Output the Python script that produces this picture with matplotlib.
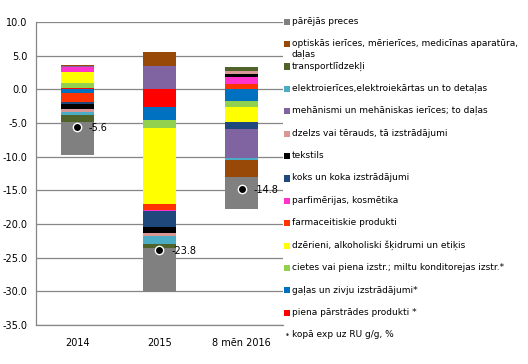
import numpy as np
import matplotlib
matplotlib.use("Agg")
import matplotlib.pyplot as plt
from matplotlib.patches import Rectangle

plt.rcParams['font.family'] = ['DejaVu Sans']
plt.rcParams['axes.unicode_minus'] = False

# categories
categories = ["2014", "2015", "8 mēn 2016"]

# series in stacking order (first = bottom of legend)
series_names = [
    "piena pārstrādes produkti *",
    "gaļas un zivju izstrādājumi*",
    "cietes vai piena izstr.; miltu konditorejas izstr.*",
    "dzērieni, alkoholiski šķidrumi un etiķis",
    "farmaceitiskie produkti",
    "parfimērijas, kosmētika",
    "koks un koka izstrādājumi",
    "tekstils",
    "dzelzs vai tērauds, tā izstrādājumi",
    "mehānismi un mehāniskas ierīces; to daļas",
    "elektroierīces,elektroiekārtas un to detaļas",
    "transportlīdzekļi",
    "optiskās ierīces, mērierīces, medicīnas aparatūra,\ndaļas",
    "pārējās preces",
]
series_colors = [
    "#ff0000", "#0070c0", "#92d050", "#ffff00", "#ff3300", "#ff33cc",
    "#1f497d", "#000000", "#d99694", "#8064a2", "#4bacc6", "#4f6228",
    "#984807", "#808080",
]

piena = [0.24, -2.65, 0.0]
galas = [-0.55, -1.90, -1.69]
cietes = [0.70, -1.20, -0.94]
dzerieni = [1.63, -11.35, -2.18]
farma = [-1.38, -0.82, 0.79]
parfim = [0.70, -0.15, 1.04]
koks = [-0.30, -2.33, -1.13]
tekstils = [-0.70, -0.95, 0.49]
dzelzs = [-0.45, -0.45, 0.45]
mehanismi = [0.20, 3.50, -4.22]
elektro = [-0.45, -1.20, -0.30]
transport = [-1.08, -0.55, 0.60]
optiskas = [0.15, 2.00, -2.57]
parejas = [-4.86, -6.55, -4.67]

kopa = [-5.6, -23.8, -14.8]
kopa_name = "kopā exp uz RU g/g, %"

series_values = [piena, galas, cietes, dzerieni, farma, parfim, koks,
                 tekstils, dzelzs, mehanismi, elektro, transport, optiskas, parejas]

fig = plt.figure(figsize=(5.28, 3.64), dpi=100)
W, H = 528, 364
ax = fig.add_axes([36 / W, 1 - 325 / H, (283 - 36) / W, (325 - 22) / H])

x = np.arange(len(categories))
pos_cum = np.zeros(len(categories))
neg_cum = np.zeros(len(categories))
for vals, color in zip(series_values, series_colors):
    v = np.array(vals)
    bottom = np.where(v >= 0, pos_cum, neg_cum)
    ax.bar(x, v, width=0.4, bottom=bottom, color=color, linewidth=0, zorder=3)
    pos_cum += np.where(v >= 0, v, 0)
    neg_cum += np.where(v < 0, v, 0)

ax.plot(x, kopa, linestyle="none", marker="o", markersize=6,
        markerfacecolor="black", markeredgecolor="white", markeredgewidth=1, zorder=5)
for xi, k in zip(x, kopa):
    ax.annotate(f"{k:.1f}", (xi, k), xytext=(8.5, -1), textcoords="offset points",
                va="center", ha="left", fontsize=7, color="black", zorder=6)

ax.set_xlim(-0.5, 2.5)
ax.set_ylim(-35, 10)
ax.set_yticks(np.arange(-35, 10.1, 5))
ax.set_yticklabels([f"{t:.1f}" for t in np.arange(-35, 10.1, 5)])
ax.set_xticks(x)
ax.set_xticklabels(categories)
ax.tick_params(axis="both", length=0, labelsize=7, colors="black")
ax.tick_params(axis="y", pad=6)
ax.tick_params(axis="x", pad=9)
ax.grid(axis="y", color="#868686", linewidth=0.9, zorder=0)
for s in ["top", "right"]:
    ax.spines[s].set_visible(False)
for s in ["left", "bottom"]:
    ax.spines[s].set_color("#868686")
    ax.spines[s].set_linewidth(0.9)

# legend, drawn manually (top to bottom = reverse stacking order)
leg_names = list(reversed(series_names)) + [kopa_name]
leg_colors = list(reversed(series_colors)) + [None]
top_px, step_px = 21.7, 22.4
for i, (name, color) in enumerate(zip(leg_names, leg_colors)):
    yc = top_px + i * step_px
    if color is not None:
        fig.add_artist(Rectangle((284 / W, 1 - (yc + 3) / H), 6 / W, 6 / H,
                                 transform=fig.transFigure, facecolor=color,
                                 edgecolor="none"))
    else:
        fig.text(287 / W, 1 - yc / H, "•", fontsize=6, color="#404040",
                 ha="center", va="center")
    fig.text(292 / W, 1 - (yc - 5) / H, name, fontsize=6.5, color="black",
             ha="left", va="top", linespacing=1.2)

fig.savefig("out.png", dpi=100)
